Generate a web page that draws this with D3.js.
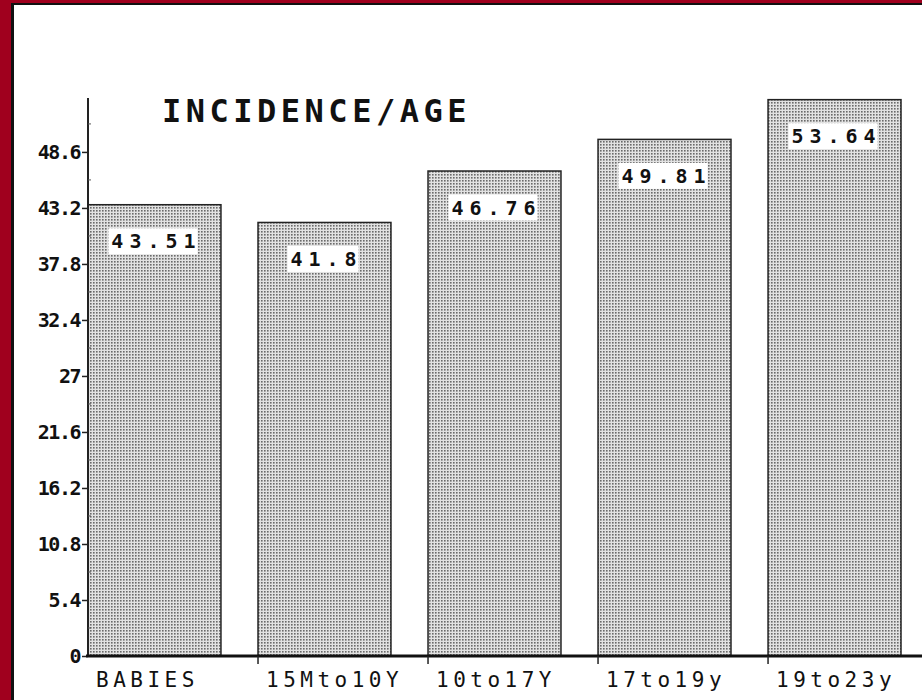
<!DOCTYPE html>
<html lang="en">
  <head>
    <meta charset="UTF-8" />
    <title>Incidence / Age</title>
    <script src="https://d3js.org/d3.v7.min.js"></script>
    <style>
      body {
        margin: 0;
        background: #a0001e;
      }
      svg {
        display: block;
      }
      .mono {
        font-family: "DejaVu Sans Mono", "Liberation Mono", monospace;
      }
    </style>
  </head>
  <body>
    <div class="chart"></div>
  </body>

  <script>
    var categories = ["BABIES", "15Mto10Y", "10to17Y", "17to19y", "19to23y"];
    var values = [43.51, 41.8, 46.76, 49.81, 53.64];
    var valueLabels = ["43.51", "41.8", "46.76", "49.81", "53.64"];
    var yTicks = [0, 5.4, 10.8, 16.2, 21.6, 27, 32.4, 37.8, 43.2, 48.6];
    var yTickLabels = ["0", "5.4", "10.8", "16.2", "21.6", "27", "32.4", "37.8", "43.2", "48.6"];
    var title = "INCIDENCE/AGE";

    var W = 922, H = 700;

    var svg = d3
      .select(".chart")
      .append("svg")
      .attr("width", W)
      .attr("height", H);

    // frame: red border, thin black line, white page
    svg.append("rect").attr("width", W).attr("height", H).attr("fill", "#a0001e");
    svg.append("rect").attr("x", 11).attr("y", 3).attr("width", W - 11).attr("height", H - 3).attr("fill", "#111");
    svg.append("rect").attr("x", 14).attr("y", 5).attr("width", W - 14).attr("height", H - 5).attr("fill", "#fff");

    // dotted fill
    var defs = svg.append("defs");
    var pat = defs
      .append("pattern")
      .attr("id", "dots")
      .attr("patternUnits", "userSpaceOnUse")
      .attr("width", 3)
      .attr("height", 3);
    pat.append("rect").attr("width", 3).attr("height", 3).attr("fill", "#e2e2e2");
    pat.append("rect").attr("width", 1.6).attr("height", 1.6).attr("fill", "#6a6a6a");

    var x0 = 88, y0 = 656;

    var yScale = d3.scaleLinear().domain([0, 53.8]).range([y0, 98]);
    var xScale = d3
      .scaleBand()
      .domain(categories)
      .range([x0, 901])
      .paddingInner(0.218)
      .paddingOuter(0)
      .align(0);

    var data = categories.map(function (c, i) {
      return { cat: c, v: values[i], label: valueLabels[i] };
    });

    // bars
    svg
      .selectAll("rect.bar")
      .data(data)
      .enter()
      .append("rect")
      .attr("class", "bar")
      .attr("x", function (d) { return xScale(d.cat); })
      .attr("y", function (d) { return yScale(d.v); })
      .attr("width", xScale.bandwidth())
      .attr("height", function (d) { return y0 - yScale(d.v); })
      .attr("fill", "url(#dots)")
      .attr("stroke", "#222")
      .attr("stroke-width", 1.5);

    // value labels with white backing
    var vl = svg
      .selectAll("g.vlabel")
      .data(data)
      .enter()
      .append("g")
      .attr("class", "vlabel");
    vl.append("text")
      .attr("class", "mono")
      .attr("x", function (d) { return xScale(d.cat) + xScale.bandwidth() / 2 + 2; })
      .attr("y", function (d) { return yScale(d.v) + 38; })
      .attr("text-anchor", "middle")
      .attr("dominant-baseline", "middle")
      .attr("font-size", 20)
      .attr("font-weight", "bold")
      .attr("letter-spacing", 6)
      .attr("fill", "#111")
      .text(function (d) { return d.label; });
    vl.each(function () {
      var g = d3.select(this);
      var bb = g.select("text").node().getBBox();
      g.insert("rect", "text")
        .attr("x", bb.x - 3)
        .attr("y", bb.y - 1)
        .attr("width", bb.width - 1)
        .attr("height", bb.height + 2)
        .attr("fill", "#fff");
    });

    // y axis
    var yAxis = d3
      .axisLeft(yScale)
      .tickValues(yTicks)
      .tickFormat(function (d, i) { return yTickLabels[i]; })
      .tickSize(6)
      .tickPadding(2);
    var ga = svg.append("g").attr("transform", "translate(" + x0 + ",0)").call(yAxis);
    ga.select(".domain").remove();
    ga.selectAll(".tick line").attr("stroke", "#222").attr("stroke-width", 1.5);
    ga.selectAll(".tick text")
      .attr("class", "mono")
      .attr("font-size", 20)
      .attr("font-weight", "bold")
      .attr("fill", "#111")
      .attr("letter-spacing", -1.5);
    svg.append("line")
      .attr("x1", x0).attr("x2", x0)
      .attr("y1", 98).attr("y2", y0)
      .attr("stroke", "#222").attr("stroke-width", 2);

    // minor ticks between labels
    var minor = yTicks.map(function (t) { return t + 2.7; });
    svg
      .selectAll("line.minor")
      .data(minor)
      .enter()
      .append("line")
      .attr("class", "minor")
      .attr("x1", x0).attr("x2", x0 + 3)
      .attr("y1", function (d) { return yScale(d); })
      .attr("y2", function (d) { return yScale(d); })
      .attr("stroke", "#555")
      .attr("stroke-width", 1);

    // x axis
    svg.append("line")
      .attr("x1", x0 - 2).attr("x2", W)
      .attr("y1", y0).attr("y2", y0)
      .attr("stroke", "#111").attr("stroke-width", 3);
    svg
      .selectAll("line.xtick")
      .data(categories.slice(1))
      .enter()
      .append("line")
      .attr("class", "xtick")
      .attr("x1", function (d) { return xScale(d); })
      .attr("x2", function (d) { return xScale(d); })
      .attr("y1", y0).attr("y2", y0 + 8)
      .attr("stroke", "#222").attr("stroke-width", 1.5);
    svg
      .selectAll("text.xlabel")
      .data(categories)
      .enter()
      .append("text")
      .attr("class", "mono")
      .attr("x", function (d) { return xScale(d) + 8; })
      .attr("y", 687)
      .attr("font-size", 21)
      .attr("letter-spacing", 4.5)
      .attr("fill", "#111")
      .text(function (d) { return d; });

    // title
    svg.append("text")
      .attr("class", "mono")
      .attr("x", 162)
      .attr("y", 122)
      .attr("font-size", 32)
      .attr("font-weight", "bold")
      .attr("letter-spacing", 4.5)
      .attr("fill", "#111")
      .text(title);
  </script>
</html>
